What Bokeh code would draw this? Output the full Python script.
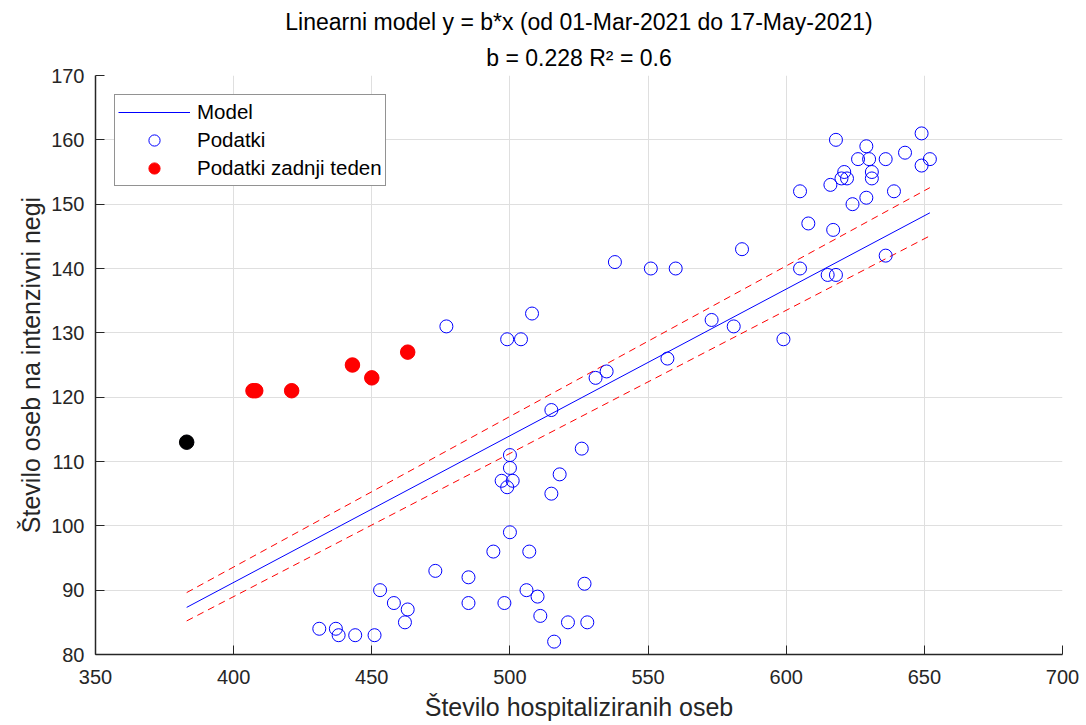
from bokeh.plotting import figure
from bokeh.models import (FixedTicker, Legend, LegendItem, Title)
from bokeh.embed import file_html
from bokeh.resources import INLINE

# Hospitalised patients (x) vs. patients in intensive care (y), 01-Mar-2021 .. 17-May-2021
hosp_prior = [431, 437, 438, 444, 451, 453, 458, 463, 462,
              473, 485, 485, 477,
              494, 507, 500, 497, 501, 499, 500, 500, 498, 506, 510, 511,
              516, 521, 528, 527, 515, 518, 526, 515,
              499, 504, 508, 531, 535, 557, 573, 581, 599,
              538, 551, 560, 584, 605, 615, 618, 636, 608, 617,
              605, 624, 629, 639, 616, 620, 621, 622, 631, 631,
              626, 630, 636, 629, 618, 643, 649, 649, 652]
icu_prior = [84, 84, 83, 83, 83, 90, 88, 87, 85,
             93, 92, 88, 131,
             96, 96, 99, 107, 107, 106, 109, 111, 88, 90, 89, 86,
             82, 85, 85, 91, 105, 108, 112, 118,
             129, 129, 133, 123, 124, 126, 132, 131, 129,
             141, 140, 140, 143, 140, 139, 139, 142, 147, 146,
             152, 150, 151, 152, 153, 154, 155, 154, 155, 154,
             157, 157, 157, 159, 160, 158, 161, 156, 157]

# last week
hosp_week = [407, 408, 421, 443, 450, 463]
icu_week = [121, 121, 121, 125, 123, 127]

# most recent day
hosp_latest = [383]
icu_latest = [113]

# fitted slope of y = b*x and its confidence bounds
b_fit = 0.228
b_low = 0.2225
b_high = 0.234
r_squared = 0.6

x_ticks = [350, 400, 450, 500, 550, 600, 650, 700]
y_ticks = [80, 90, 100, 110, 120, 130, 140, 150, 160, 170]

FONT = "Liberation Sans"
INK = "#262626"

hosp_all = hosp_prior + hosp_week + hosp_latest
icu_all = icu_prior + icu_week + icu_latest
x_line = [min(hosp_all), max(hosp_all)]

p = figure(width=1086, height=725, x_range=(350, 700), y_range=(80, 170),
           output_backend="svg", toolbar_location=None, title=None,
           min_border_left=95, min_border_right=24,
           min_border_top=75, min_border_bottom=71)
p.outline_line_color = None
p.background_fill_color = "white"
p.border_fill_color = "white"

# model and confidence bounds
model_r = p.line(x_line, [b_fit * v for v in x_line], line_color="blue", line_width=1)
p.line(x_line, [b_high * v for v in x_line], line_color="red", line_width=1,
       line_dash="7 5")
p.line(x_line, [b_low * v for v in x_line], line_color="red", line_width=1,
       line_dash="7 5")

# observations
data_r = p.scatter(hosp_all, icu_all, size=13, marker="circle",
                   fill_color=None, line_color="blue", line_width=1)
week_r = p.scatter(hosp_week, icu_week, size=14.5, marker="circle",
                   fill_color="red", line_color="red", line_width=1)
p.scatter(hosp_latest, icu_latest, size=14.5, marker="circle",
          fill_color="black", line_color="black", line_width=1)

# axes
for ax in (p.xaxis[0], p.yaxis[0]):
    ax.axis_line_color = INK
    ax.axis_line_width = 1.5
    ax.major_tick_line_color = INK
    ax.major_tick_in = 9
    ax.major_tick_out = 0
    ax.minor_tick_line_color = None
    ax.major_label_text_font = FONT
    ax.major_label_text_font_size = "20px"
    ax.major_label_text_color = INK
    ax.axis_label_text_font = FONT
    ax.axis_label_text_font_size = "25px"
    ax.axis_label_text_font_style = "normal"
    ax.axis_label_text_color = INK

p.xaxis.ticker = FixedTicker(ticks=x_ticks)
p.yaxis.ticker = FixedTicker(ticks=y_ticks)
p.xaxis.axis_label = "Število hospitaliziranih oseb"
p.yaxis.axis_label = "Število oseb na intenzivni negi"
p.xaxis.major_label_standoff = 15
p.yaxis.major_label_standoff = 11
p.xaxis.axis_label_standoff = 6
p.yaxis.axis_label_standoff = 3

p.grid.grid_line_color = "#dfdfdf"
p.grid.grid_line_width = 1
p.xgrid.ticker = FixedTicker(ticks=x_ticks)
p.ygrid.ticker = FixedTicker(ticks=y_ticks)

# two-line title (first added sits closest to the plot)
p.add_layout(Title(text=f"b = {b_fit} R² = {r_squared}", align="center",
                   text_font=FONT, text_font_size="23px",
                   text_font_style="normal", text_color="black",
                   standoff=9), "above")
p.add_layout(Title(text="Linearni model y = b*x (od 01-Mar-2021 do 17-May-2021)",
                   align="center", text_font=FONT, text_font_size="23px",
                   text_font_style="normal", text_color="black",
                   standoff=7), "above")

legend = Legend(items=[
    LegendItem(label="Model", renderers=[model_r]),
    LegendItem(label="Podatki", renderers=[data_r]),
    LegendItem(label="Podatki zadnji teden", renderers=[week_r]),
], location="top_left")
legend.margin = 19
legend.padding = 3
legend.spacing = 0
legend.glyph_width = 72
legend.glyph_height = 28
legend.label_height = 28
legend.label_standoff = 7
legend.label_text_font = FONT
legend.label_text_font_size = "20.5px"
legend.label_text_color = "black"
legend.border_line_color = INK
legend.border_line_width = 1
legend.background_fill_color = "white"
legend.background_fill_alpha = 1
p.add_layout(legend, "center")

open("out.html", "w").write(file_html(p, INLINE))
